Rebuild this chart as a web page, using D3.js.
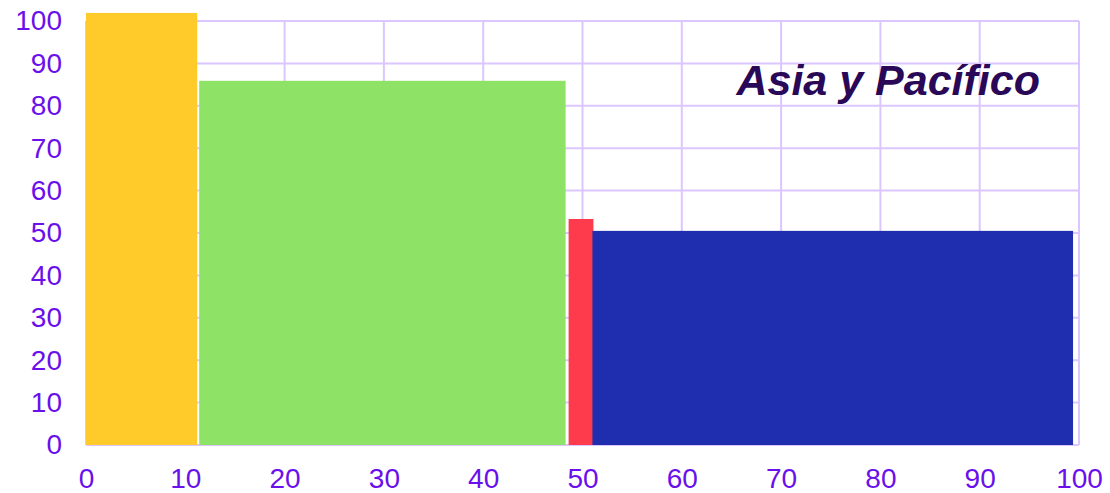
<!DOCTYPE html>
<html>
<head>
<meta charset="utf-8">
<script src="https://cdn.jsdelivr.net/npm/d3@7"></script>
<style>
  body { margin: 0; background: #fff; }
  text { font-family: "Liberation Sans", Arial, sans-serif; }
</style>
</head>
<body>
<div id="chart"></div>
<script>
// bar extents along the x axis and their heights
const segStart = [0, 11.4, 48.6, 51.0];
const segEnd = [11.2, 48.3, 51.1, 99.4];
const segValue = [101.9, 85.9, 53.3, 50.5];
const segColor = ["#FECB2A", "#8EE366", "#FE3B4D", "#1F2DAF"];
const xTicks = [0, 10, 20, 30, 40, 50, 60, 70, 80, 90, 100];
const yTicks = [0, 10, 20, 30, 40, 50, 60, 70, 80, 90, 100];
const title = "Asia y Pacífico";

const width = 1110, height = 493;
const margin = { top: 21, right: 31, bottom: 48, left: 86 };

const svg = d3.select("#chart").append("svg")
    .attr("width", width)
    .attr("height", height);

const x = d3.scaleLinear().domain([0, 100]).range([margin.left, width - margin.right]);
const y = d3.scaleLinear().domain([0, 100]).range([height - margin.bottom, margin.top]);

const gridColor = "#DCC6FF";
const labelColor = "#6A10EC";

// grid
svg.append("g").selectAll("line.v")
    .data(xTicks)
    .join("line")
    .attr("x1", d => x(d)).attr("x2", d => x(d))
    .attr("y1", y(0)).attr("y2", y(100))
    .attr("stroke", gridColor).attr("stroke-width", 2);

svg.append("g").selectAll("line.h")
    .data(yTicks)
    .join("line")
    .attr("x1", x(0)).attr("x2", x(100))
    .attr("y1", d => y(d)).attr("y2", d => y(d))
    .attr("stroke", gridColor).attr("stroke-width", 2);

// bars
svg.append("g").selectAll("rect")
    .data(segValue)
    .join("rect")
    .attr("x", (d, i) => x(segStart[i]))
    .attr("width", (d, i) => x(segEnd[i]) - x(segStart[i]))
    .attr("y", d => y(d))
    .attr("height", d => y(0) - y(d))
    .attr("fill", (d, i) => segColor[i]);

// axes
const xAxis = svg.append("g")
    .attr("transform", `translate(0,${y(0)})`)
    .call(d3.axisBottom(x).tickValues(xTicks).tickSize(0).tickPadding(23));
const yAxis = svg.append("g")
    .attr("transform", `translate(${x(0)},0)`)
    .call(d3.axisLeft(y).tickValues(yTicks).tickSize(0).tickPadding(24));

[xAxis, yAxis].forEach(g => {
    g.select(".domain").remove();
    g.selectAll("text")
        .attr("fill", labelColor)
        .style("font-size", "28px")
        .style("font-family", "'Liberation Sans', Arial, sans-serif");
});

// title
svg.append("text")
    .attr("x", 1040)
    .attr("y", 95)
    .attr("text-anchor", "end")
    .attr("fill", "#2A0858")
    .style("font-size", "43px")
    .style("font-weight", "bold")
    .style("font-style", "italic")
    .text(title);
</script>
</body>
</html>
